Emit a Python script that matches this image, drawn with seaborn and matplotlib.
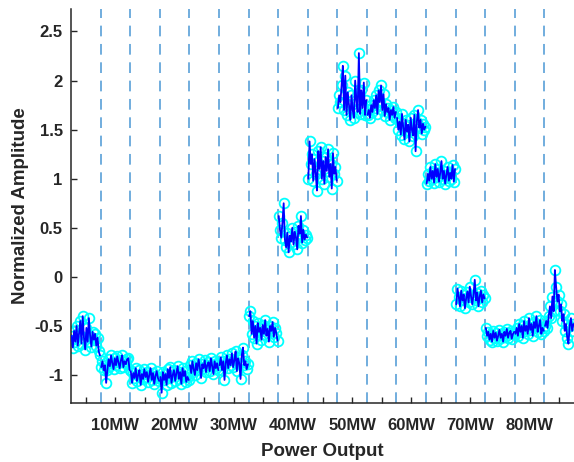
import numpy as np
import pandas as pd
import matplotlib
matplotlib.use("Agg")
import matplotlib.pyplot as plt
import seaborn as sns

# normalized amplitude, one list per power step (5MW ... 85MW)
seg_05 = [-0.60, -0.72, -0.55, -0.66, -0.50, -0.70, -0.58, -0.45, -0.68, -0.40, -0.62, -0.74,
          -0.52, -0.66, -0.42, -0.60, -0.71, -0.56, -0.64, -0.58, -0.70, -0.62, -0.76, -0.80]
seg_10 = [-0.92, -0.86, -0.95, -0.90, -1.08, -0.95, -0.84, -0.91, -0.80, -0.88, -0.94, -0.83,
          -0.90, -0.81, -0.87, -0.93, -0.85, -0.80, -0.92, -0.86, -0.89, -0.84, -0.83, -0.95]
seg_15 = [-0.96, -1.08, -0.98, -1.03, -0.93, -1.06, -1.00, -0.95, -1.10, -0.99, -1.04, -0.94,
          -1.02, -0.97, -1.07, -1.00, -0.93, -1.05, -0.98, -1.09, -1.01, -0.96, -1.03, -1.06]
seg_20 = [-1.02, -1.18, -0.97, -1.05, -0.99, -1.10, -0.94, -1.03, -0.92, -1.08, -1.00, -0.95,
          -1.06, -0.98, -0.91, -1.04, -0.97, -1.09, -0.93, -1.01, -0.96, -1.07, -1.02, -1.05]
seg_25 = [-0.90, -0.98, -0.86, -0.94, -1.00, -0.88, -0.95, -0.84, -0.92, -1.03, -0.89, -0.93,
          -0.85, -0.97, -0.90, -0.87, -0.96, -0.83, -0.91, -0.99, -0.86, -0.93, -0.88, -0.95]
seg_30 = [-0.90, -0.82, -0.95, -0.86, -1.05, -0.88, -0.80, -0.93, -0.84, -0.90, -0.78, -0.92,
          -0.85, -0.76, -0.96, -0.83, -0.88, -1.04, -0.80, -0.72, -0.90, -0.86, -0.94, -0.89]
seg_35 = [-0.40, -0.35, -0.58, -0.45, -0.62, -0.50, -0.68, -0.47, -0.56, -0.52, -0.64, -0.49,
          -0.58, -0.44, -0.60, -0.53, -0.66, -0.50, -0.55, -0.46, -0.61, -0.52, -0.57, -0.65]
seg_40 = [0.62, 0.48, 0.40, 0.55, 0.75, 0.38, 0.30, 0.45, 0.25, 0.42, 0.36, 0.50,
          0.33, 0.46, 0.40, 0.28, 0.52, 0.44, 0.62, 0.35, 0.48, 0.38, 0.43, 0.40]
seg_45 = [1.00, 1.38, 1.15, 1.25, 0.98, 1.20, 1.05, 0.88, 1.28, 1.10, 1.32, 1.00,
          1.18, 0.95, 1.22, 1.08, 1.30, 1.02, 1.15, 0.90, 1.26, 1.05, 1.12, 0.98]
seg_50 = [1.72, 1.85, 1.78, 1.95, 2.15, 1.70, 2.05, 1.65, 1.88, 1.75, 1.60, 1.85,
          1.70, 1.62, 2.00, 1.80, 1.68, 2.28, 1.66, 1.90, 1.72, 1.98, 1.65, 1.80]
seg_55 = [1.65, 1.70, 1.62, 1.75, 1.68, 1.80, 1.72, 1.85, 1.66, 1.90, 1.78, 1.95,
          1.70, 1.86, 1.64, 1.76, 1.68, 1.72, 1.60, 1.70, 1.65, 1.73, 1.62, 1.68]
seg_60 = [1.62, 1.50, 1.58, 1.45, 1.66, 1.52, 1.40, 1.60, 1.48, 1.55, 1.38, 1.62,
          1.50, 1.44, 1.65, 1.28, 1.58, 1.70, 1.52, 1.60, 1.46, 1.56, 1.50, 1.53]
seg_65 = [0.95, 1.05, 0.98, 1.12, 1.00, 1.08, 0.96, 1.15, 1.02, 1.10, 0.97, 1.06,
          1.18, 1.00, 1.08, 0.95, 1.04, 1.12, 0.98, 1.06, 1.00, 1.14, 0.97, 1.10]
seg_70 = [-0.28, -0.12, -0.20, -0.30, -0.14, -0.24, -0.18, -0.32, -0.22, -0.15, -0.26, -0.10,
          -0.20, -0.28, -0.18, -0.03, -0.24, -0.16, -0.30, -0.20, -0.14, -0.26, -0.18, -0.22]
seg_75 = [-0.52, -0.60, -0.56, -0.64, -0.58, -0.66, -0.55, -0.62, -0.57, -0.65, -0.60, -0.54,
          -0.62, -0.58, -0.66, -0.56, -0.60, -0.53, -0.62, -0.57, -0.55, -0.63, -0.58, -0.56]
seg_80 = [-0.58, -0.52, -0.60, -0.48, -0.56, -0.50, -0.62, -0.45, -0.55, -0.50, -0.58, -0.42,
          -0.54, -0.48, -0.60, -0.46, -0.52, -0.40, -0.56, -0.50, -0.44, -0.58, -0.52, -0.55]
seg_85 = [-0.50, -0.45, -0.52, -0.40, -0.30, -0.42, -0.20, -0.35, 0.07, -0.10, -0.25, -0.18,
          -0.35, -0.28, -0.45, -0.38, -0.55, -0.48, -0.62, -0.68, -0.50, -0.42, -0.55, -0.48]

segments = [seg_05, seg_10, seg_15, seg_20, seg_25, seg_30, seg_35, seg_40, seg_45,
            seg_50, seg_55, seg_60, seg_65, seg_70, seg_75, seg_80, seg_85]
tick_labels = ['', '10MW', '', '20MW', '', '30MW', '', '40MW', '', '50MW', '',
               '60MW', '', '70MW', '', '80MW', '']
y_ticks = [-1, -0.5, 0, 0.5, 1, 1.5, 2, 2.5]
y_tick_labels = ['-1', '-0.5', '0', '0.5', '1', '1.5', '2', '2.5']

n = len(seg_05)
rows = []
for k, seg in enumerate(segments):
    for i, v in enumerate(seg):
        rows.append({'pos': k + (i + 0.5) / n, 'amp': v, 'seg': k})
df = pd.DataFrame(rows)

sns.set_style('ticks')
plt.rcParams['font.family'] = ['Liberation Sans', 'DejaVu Sans']

fig = plt.figure(figsize=(5.74, 4.62), dpi=100)
ax = fig.add_axes([0.1237, 0.1277, 0.8763, 0.853])

# segment boundaries
for k in range(1, len(segments)):
    ax.axvline(k, color='#4A97D4', ls=(0, (7, 5)), lw=1.1, zorder=1)

sns.lineplot(data=df, x='pos', y='amp', units='seg', estimator=None, ax=ax,
             lw=0, marker='o', ms=7, mfc='none', mec='#00FFFF', mew=1.3, zorder=2)
sns.lineplot(data=df, x='pos', y='amp', units='seg', estimator=None, ax=ax,
             color='#0000FF', lw=1.3, zorder=3)

ax.set_xlim(0, len(segments))
ax.set_ylim(-1.285, 2.73)
ax.set_xticks(np.arange(len(segments)) + 0.5, tick_labels)
ax.set_yticks(y_ticks, y_tick_labels)
ax.tick_params(direction='in', length=4, width=1, colors='#262626', labelsize=12)
ax.tick_params(axis='x', pad=11)
ax.tick_params(axis='y', pad=6)
for lab in ax.get_xticklabels() + ax.get_yticklabels():
    lab.set_fontweight('bold')

sns.despine(ax=ax)
for s in ['left', 'bottom']:
    ax.spines[s].set_color('#262626')
    ax.spines[s].set_linewidth(1.1)

ax.set_xlabel('Power Output', fontsize=13.5, fontweight='bold', color='#262626', labelpad=7)
ax.set_ylabel('Normalized Amplitude', fontsize=13.5, fontweight='bold', color='#262626', labelpad=4)

fig.savefig('out.png', dpi=100)
